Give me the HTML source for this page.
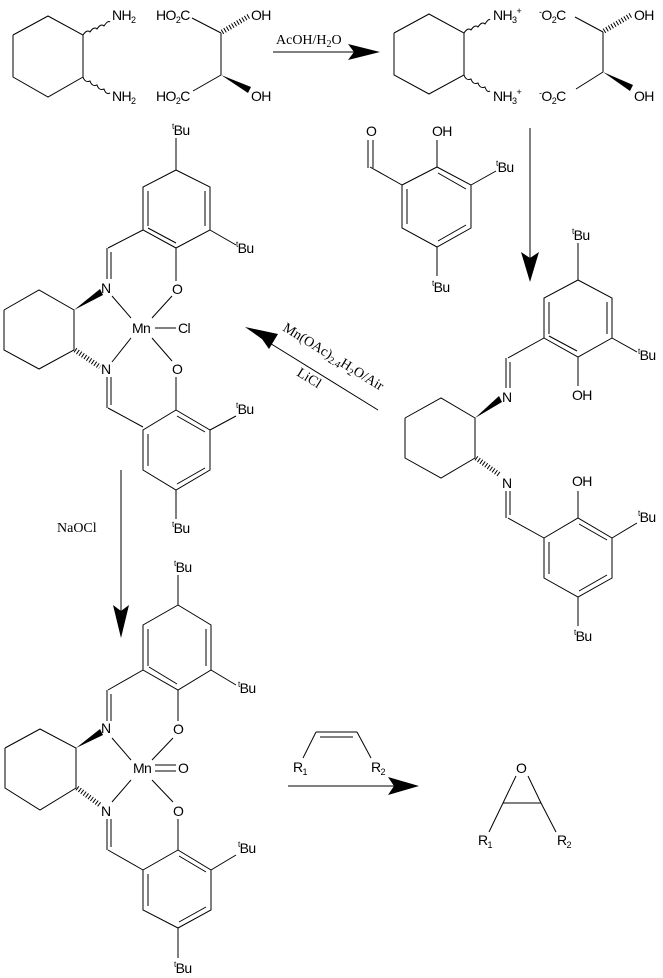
<!DOCTYPE html>
<html><head><meta charset="utf-8"><style>
html,body{margin:0;padding:0;background:#fff;}
svg{display:block;}
text{font-family:"Liberation Sans",sans-serif;font-size:14px;letter-spacing:-0.6px;fill:#000;}
.s{font-family:"Liberation Serif",serif;font-size:14px;letter-spacing:0;}
line,polyline,path{stroke:#000;stroke-width:1;fill:none;}
.h{stroke-width:5;stroke-dasharray:1 2;}
.w{fill:#000;stroke:none;}
</style></head><body>
<svg width="663" height="978" viewBox="0 0 663 978" xmlns="http://www.w3.org/2000/svg">
<!-- Block1 left diamine -->
<polyline points="13,35 48,16 83,35 83,77 48,97 13,77 13,35"/>
<path d="M83,35 q4,-6 7,-3 q4,-6 7,-3 q4,-6 7,-3 q4,-6 6,-4"/>
<path d="M83,77 q2,6 7,4 q2,6 7,4 q2,6 7,4 q2,6 6,4"/>
<text x="112" y="20">NH<tspan font-size="9" dy="3">2</tspan></text>
<text x="112" y="101">NH<tspan font-size="9" dy="3">2</tspan></text>
<!-- tartaric acid -->
<text x="156" y="20">HO<tspan font-size="9" dy="3">2</tspan><tspan dy="-3">C</tspan></text>
<text x="156" y="101">HO<tspan font-size="9" dy="3">2</tspan><tspan dy="-3">C</tspan></text>
<line x1="192" y1="18" x2="221" y2="33"/><line x1="221" y1="33" x2="221" y2="75"/>
<line x1="221" y1="75" x2="193" y2="91"/>
<line class="h" x1="222" y1="32" x2="249" y2="16"/>
<polygon class="w" points="221,75 251,87 248,93"/>
<text x="251" y="20">OH</text><text x="251" y="101">OH</text>
<!-- arrow 1 -->
<line x1="273" y1="52" x2="360" y2="52"/>
<polygon class="w" points="348,44 380,52 348,60 354,52"/>
<text class="s" x="276" y="44">AcOH/H<tspan font-size="10" dy="3">2</tspan><tspan dy="-3">O</tspan></text>
<!-- right ammonium -->
<polyline points="394,33 429,14 464,33 464,75 429,94 394,75 394,33"/>
<path d="M464,33 q4,-6 7,-3 q4,-6 7,-3 q4,-6 7,-3 q4,-6 5,-4"/>
<path d="M464,75 q2,6 7,4 q2,6 7,4 q2,6 7,4 q2,6 5,4"/>
<text x="493" y="20">NH<tspan font-size="9" dy="3">3</tspan><tspan font-size="9" dy="-9">+</tspan></text>
<text x="493" y="101">NH<tspan font-size="9" dy="3">3</tspan><tspan font-size="9" dy="-9">+</tspan></text>
<text x="539" y="20"><tspan font-size="9" dy="-5">-</tspan><tspan dy="5">O</tspan><tspan font-size="9" dy="3">2</tspan><tspan dy="-3">C</tspan></text>
<text x="539" y="101"><tspan font-size="9" dy="-5">-</tspan><tspan dy="5">O</tspan><tspan font-size="9" dy="3">2</tspan><tspan dy="-3">C</tspan></text>
<line x1="575" y1="17" x2="603" y2="32"/><line x1="603" y1="32" x2="603" y2="72"/>
<line x1="603" y1="72" x2="576" y2="89"/>
<line class="h" x1="604" y1="31" x2="631" y2="15"/>
<polygon class="w" points="603,72 633,85 630,91"/>
<text x="634" y="20">OH</text><text x="634" y="101">OH</text>
<!-- salicylaldehyde -->
<text x="366" y="136">O</text>
<line x1="368" y1="140" x2="368" y2="168"/><line x1="373" y1="140" x2="373" y2="168"/>
<line x1="370" y1="167" x2="402" y2="185"/>
<polyline points="402,185 437,167 471,185 471,228 437,247 402,228 402,185"/>
<line x1="407" y1="189" x2="407" y2="224"/><line x1="438" y1="173" x2="466" y2="189"/><line x1="438" y1="241" x2="466" y2="225"/>
<line x1="437" y1="167" x2="437" y2="140"/><text x="432" y="136">OH</text>
<line x1="471" y1="185" x2="496" y2="171"/><text x="496" y="172"><tspan font-size="8" dy="-6">t</tspan><tspan dy="6">Bu</tspan></text>
<line x1="437" y1="247" x2="437" y2="276"/><text x="432" y="292"><tspan font-size="8" dy="-6">t</tspan><tspan dy="6">Bu</tspan></text>
<!-- down arrow right -->
<line x1="530" y1="128" x2="530" y2="262"/>
<polygon class="w" points="521,252 530,282 539,252 530,258"/>
<!-- Mn-Cl complex -->
<text x="172" y="135"><tspan font-size="8" dy="-6">t</tspan><tspan dy="6">Bu</tspan></text>
<line x1="176" y1="138" x2="176" y2="170"/>
<polyline points="176,170 210,187 210,230 176,248 143,230 143,187 176,170"/>
<line x1="148" y1="191" x2="148" y2="226"/><line x1="205" y1="191" x2="205" y2="226"/><line x1="148" y1="228" x2="176" y2="243"/>
<line x1="210" y1="230" x2="236" y2="245"/><text x="236" y="253"><tspan font-size="8" dy="-6">t</tspan><tspan dy="6">Bu</tspan></text>
<line x1="176" y1="248" x2="176" y2="281"/><text x="172" y="294">O</text>
<line x1="143" y1="230" x2="108" y2="248"/>
<line x1="107" y1="248" x2="107" y2="279"/><line x1="111" y1="252" x2="111" y2="279"/>
<text x="101" y="293">N</text>
<polyline points="4,310 39,290 74,310 74,350 39,369 4,350 4,310"/>
<polygon class="w" points="74,310 100,289 103,295"/>
<line class="h" x1="75" y1="350" x2="100" y2="367"/>
<line x1="112" y1="296" x2="131" y2="318"/><line x1="172" y1="296" x2="152" y2="318"/>
<line x1="131" y1="338" x2="112" y2="362"/><line x1="152" y1="338" x2="172" y2="361"/>
<text x="132" y="333">Mn</text><line x1="155" y1="328" x2="176" y2="328"/><text x="178" y="333">Cl</text>
<text x="101" y="374">N</text><text x="172" y="374">O</text>
<line x1="107" y1="377" x2="107" y2="408"/><line x1="111" y1="377" x2="111" y2="405"/>
<line x1="108" y1="408" x2="143" y2="427"/>
<line x1="176" y1="377" x2="176" y2="410"/>
<polyline points="176,410 210,430 210,470 176,490 143,470 143,430 176,410"/>
<line x1="148" y1="434" x2="148" y2="466"/><line x1="177" y1="416" x2="205" y2="432"/><line x1="177" y1="484" x2="205" y2="468"/>
<line x1="210" y1="430" x2="236" y2="416"/><text x="236" y="414"><tspan font-size="8" dy="-6">t</tspan><tspan dy="6">Bu</tspan></text>
<line x1="176" y1="490" x2="176" y2="519"/><text x="172" y="533"><tspan font-size="8" dy="-6">t</tspan><tspan dy="6">Bu</tspan></text>
<!-- diag arrow -->
<line x1="378" y1="410" x2="260" y2="337"/>
<polygon class="w" points="245,327 278,334 269,349 262,339"/>
<text class="s" x="282" y="330" font-size="15" transform="rotate(31.8 282 330)">Mn(OAc)<tspan font-size="10" dy="3">2.4</tspan><tspan dy="-3">H</tspan><tspan font-size="10" dy="3">2</tspan><tspan dy="-3">O/Air</tspan></text>
<text class="s" x="296" y="375" transform="rotate(31.8 296 375)">LiCl</text>
<!-- right salen ligand -->
<text x="572" y="240"><tspan font-size="8" dy="-6">t</tspan><tspan dy="6">Bu</tspan></text>
<line x1="578" y1="243" x2="578" y2="280"/>
<polyline points="578,280 612,298 612,338 578,357 544,338 544,298 578,280"/>
<line x1="607" y1="302" x2="607" y2="334"/><line x1="549" y1="302" x2="549" y2="334"/>
<line x1="549" y1="336" x2="577" y2="351"/>
<line x1="612" y1="338" x2="637" y2="352"/><text x="638" y="360"><tspan font-size="8" dy="-6">t</tspan><tspan dy="6">Bu</tspan></text>
<line x1="578" y1="357" x2="578" y2="386"/><text x="572" y="400">OH</text>
<line x1="544" y1="338" x2="508" y2="358"/>
<line x1="506" y1="358" x2="506" y2="388"/><line x1="510" y1="362" x2="510" y2="388"/>
<text x="502" y="402">N</text>
<polyline points="405,418 441,398 475,418 475,458 441,478 405,458 405,418"/>
<polygon class="w" points="475,418 499,396 502,402"/>
<line class="h" x1="476" y1="458" x2="500" y2="475"/>
<text x="502" y="488">N</text>
<line x1="506" y1="491" x2="506" y2="518"/><line x1="510" y1="491" x2="510" y2="515"/>
<line x1="508" y1="518" x2="544" y2="538"/>
<polyline points="544,538 578,518 612,538 612,578 578,597 544,578 544,538"/>
<line x1="549" y1="542" x2="549" y2="574"/><line x1="579" y1="524" x2="607" y2="540"/><line x1="579" y1="591" x2="607" y2="575"/>
<line x1="578" y1="518" x2="578" y2="491"/><text x="572" y="486">OH</text>
<line x1="612" y1="538" x2="637" y2="523"/><text x="638" y="522"><tspan font-size="8" dy="-6">t</tspan><tspan dy="6">Bu</tspan></text>
<line x1="578" y1="597" x2="578" y2="626"/><text x="574" y="641"><tspan font-size="8" dy="-6">t</tspan><tspan dy="6">Bu</tspan></text>
<!-- NaOCl arrow -->
<text class="s" x="57" y="532">NaOCl</text>
<line x1="121" y1="470" x2="121" y2="620"/>
<polygon class="w" points="113,605 121,638 129,605 121,611"/>
<!-- Mn=O complex -->
<text x="174" y="572"><tspan font-size="8" dy="-6">t</tspan><tspan dy="6">Bu</tspan></text>
<line x1="178" y1="575" x2="178" y2="605"/>
<polyline points="178,605 211,625 211,670 178,690 143,670 143,625 178,605"/>
<line x1="148" y1="629" x2="148" y2="666"/><line x1="206" y1="629" x2="206" y2="666"/><line x1="149" y1="667" x2="177" y2="684"/>
<line x1="211" y1="670" x2="236" y2="685"/><text x="238" y="693"><tspan font-size="8" dy="-6">t</tspan><tspan dy="6">Bu</tspan></text>
<line x1="143" y1="670" x2="108" y2="690"/>
<line x1="107" y1="690" x2="107" y2="721"/><line x1="111" y1="694" x2="111" y2="721"/>
<text x="101" y="733">N</text>
<line x1="178" y1="690" x2="178" y2="721"/><text x="173" y="734">O</text>
<polyline points="5,748 40,729 76,748 76,788 40,810 5,788 5,748"/>
<polygon class="w" points="76,748 100,729 103,735"/>
<line class="h" x1="77" y1="788" x2="100" y2="805"/>
<line x1="112" y1="738" x2="131" y2="760"/><line x1="173" y1="738" x2="152" y2="760"/>
<line x1="131" y1="780" x2="112" y2="802"/><line x1="152" y1="780" x2="173" y2="802"/>
<text x="133" y="773">Mn</text>
<line x1="155" y1="765" x2="176" y2="765"/><line x1="155" y1="771" x2="176" y2="771"/>
<text x="178" y="773">O</text>
<text x="101" y="816">N</text><text x="173" y="816">O</text>
<line x1="107" y1="819" x2="107" y2="850"/><line x1="111" y1="819" x2="111" y2="847"/>
<line x1="108" y1="850" x2="143" y2="870"/>
<line x1="178" y1="819" x2="178" y2="850"/>
<polyline points="178,850 211,870 211,910 178,928 143,910 143,870 178,850"/>
<line x1="148" y1="874" x2="148" y2="906"/><line x1="179" y1="856" x2="206" y2="872"/><line x1="179" y1="922" x2="206" y2="907"/>
<line x1="211" y1="870" x2="236" y2="855"/><text x="238" y="853"><tspan font-size="8" dy="-6">t</tspan><tspan dy="6">Bu</tspan></text>
<line x1="178" y1="928" x2="178" y2="958"/><text x="174" y="973"><tspan font-size="8" dy="-6">t</tspan><tspan dy="6">Bu</tspan></text>
<!-- alkene + arrow -->
<line x1="303" y1="758" x2="316" y2="732"/><line x1="316" y1="732" x2="357" y2="732"/>
<line x1="320" y1="737" x2="353" y2="737"/><line x1="357" y1="732" x2="371" y2="758"/>
<text x="293" y="772">R<tspan font-size="9" dy="3">1</tspan></text>
<text x="371" y="772">R<tspan font-size="9" dy="3">2</tspan></text>
<line x1="288" y1="786" x2="400" y2="786"/>
<polygon class="w" points="388,777 419,786 388,795 394,786"/>
<!-- epoxide -->
<text x="516" y="773">O</text>
<line x1="516" y1="776" x2="503" y2="803"/><line x1="528" y1="776" x2="541" y2="803"/>
<line x1="503" y1="803" x2="541" y2="803"/>
<line x1="503" y1="803" x2="489" y2="832"/><line x1="541" y1="803" x2="556" y2="832"/>
<text x="478" y="845">R<tspan font-size="9" dy="3">1</tspan></text>
<text x="557" y="845">R<tspan font-size="9" dy="3">2</tspan></text>
</svg>
</body></html>
